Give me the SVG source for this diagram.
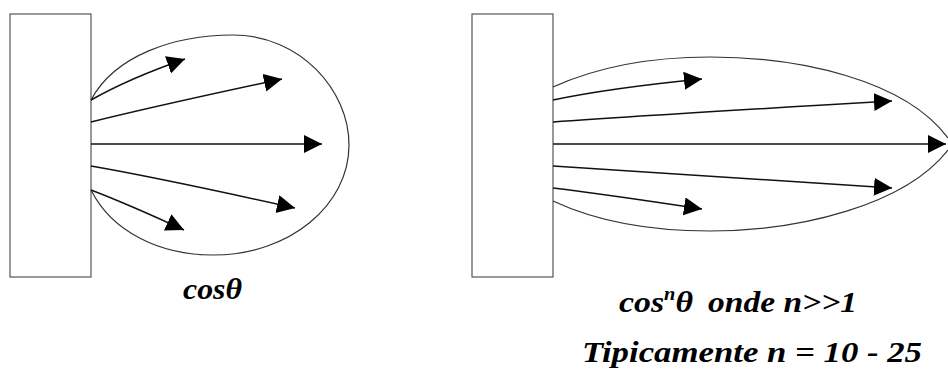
<svg xmlns="http://www.w3.org/2000/svg" width="948" height="372" viewBox="0 0 948 372">
<style>
.box{fill:#fff;stroke:#555;stroke-width:1.2}
.lobe{fill:none;stroke:#333;stroke-width:1.2}
.ray{fill:none;stroke:#111;stroke-width:1.5;marker-end:url(#ah)}
.lbl{font-family:"Liberation Serif","Times New Roman",serif;font-weight:bold;font-style:italic;font-size:30px;fill:#000}
</style>
<defs>
<marker id="ah" markerUnits="userSpaceOnUse" markerWidth="19" markerHeight="19" refX="18" refY="9" orient="auto">
<path d="M0,0 L18,9 L0,18 z" fill="#000"/>
</marker>
</defs>
<rect width="948" height="372" fill="#fff"/>
<g id="source-left"><rect class="box" x="10" y="14" width="81" height="263"/></g>
<g id="lobe-left"><path class="lobe" d="M91,100 C115,55 175,35 233,35 C300,35 349,90 349,145 C349,205 290,255 213,255 C160,255 112,232 91,190"/></g>
<g id="source-right"><rect class="box" x="472" y="14" width="81" height="263"/></g>
<g id="lobe-right"><path class="lobe" d="M553,87 C595,68 650,57 710,57 C800,57 905,80 948,138 M948,150 C905,205 800,231 710,231 C650,231 598,222 553,201"/></g>
<g id="connectors">
<path class="ray" d="M91,100 Q130,78 185,59"/>
<path class="ray" d="M91,122 Q160,105 282,79"/>
<path class="ray" d="M91,144 L322,144"/>
<path class="ray" d="M91,166 Q160,178 295,208"/>
<path class="ray" d="M91,190 Q130,205 184,230"/>
<path class="ray" d="M553,100 Q610,88 702,79"/>
<path class="ray" d="M553,122 Q650,115 892,101"/>
<path class="ray" d="M553,144 L946,144"/>
<path class="ray" d="M553,166 Q650,172 892,188"/>
<path class="ray" d="M553,188 Q610,195 702,209"/>
</g>
<g id="labels">
<text class="lbl" x="183" y="299" textLength="59" lengthAdjust="spacingAndGlyphs">cosθ</text>
<text class="lbl" x="619" y="312" textLength="74" lengthAdjust="spacingAndGlyphs">cos<tspan font-size="18" dy="-12">n</tspan><tspan dy="12">θ</tspan></text>
<text class="lbl" x="708" y="312" textLength="149" lengthAdjust="spacingAndGlyphs">onde n&gt;&gt;1</text>
<text class="lbl" x="582" y="362" textLength="340" lengthAdjust="spacingAndGlyphs">Tipicamente n = 10 - 25</text>
</g>
</svg>
